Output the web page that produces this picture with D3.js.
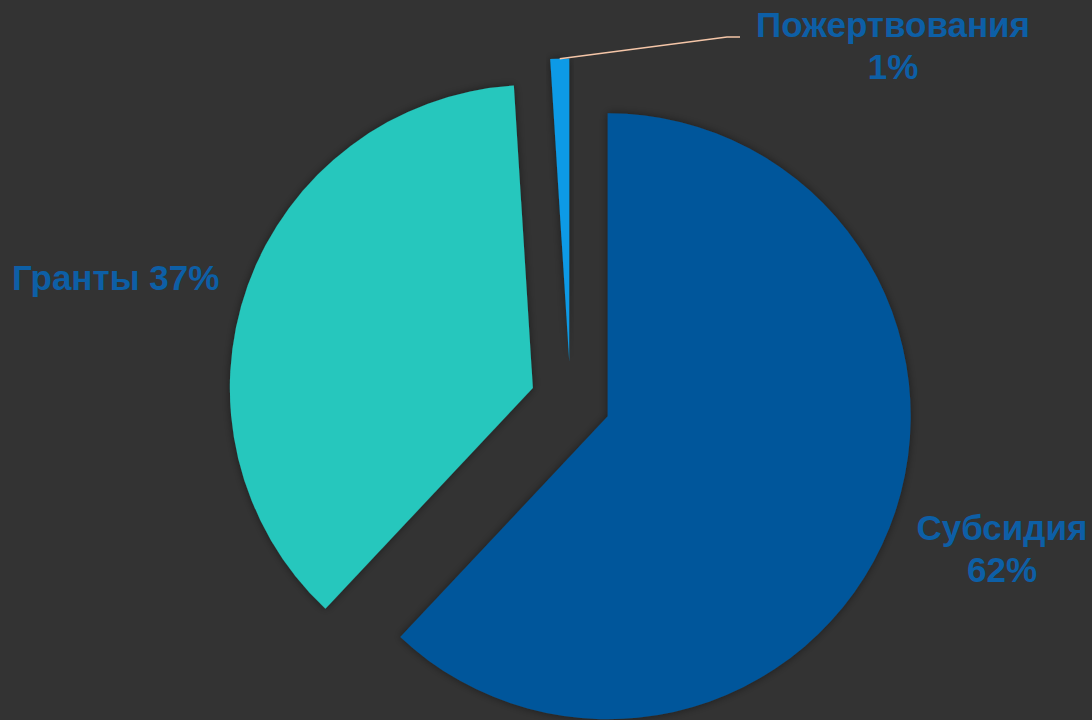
<!DOCTYPE html>
<html><head><meta charset="utf-8">
<script src="https://cdn.jsdelivr.net/npm/d3@7"></script>
<style>html,body{margin:0;padding:0;background:#333333;}svg{display:block;}</style>
</head><body>
<svg id="c" width="1092" height="720"></svg>
<script>
const categories = ["Субсидия", "Гранты", "Пожертвования"];
const values = [62, 37, 1];
const colors = ["#00579b", "#26c7bd", "#0b9ae6"];

const W = 1092, H = 720;
const cx = 570.5, cy = 401.5, R = 303, explode = 40;
const svg = d3.select("#c");
const defs = svg.append("defs");
const f = defs.append("filter").attr("id","sh").attr("x","-20%").attr("y","-20%").attr("width","140%").attr("height","140%");
f.append("feDropShadow").attr("dx",0).attr("dy",0).attr("stdDeviation",4).attr("flood-color","#000").attr("flood-opacity",0.45);

svg.append("rect").attr("width",W).attr("height",H).attr("fill","#333333");

const pie = d3.pie().sort(null).value(d => d).startAngle(0).endAngle(2*Math.PI);
const arcs = pie(values);
const arc = d3.arc().innerRadius(0).outerRadius(R);
const g = svg.append("g").attr("transform",`translate(${cx},${cy})`);

function off(d){
  const m = (d.startAngle + d.endAngle)/2;
  return [Math.sin(m)*explode, -Math.cos(m)*explode];
}

g.selectAll("path").data(arcs).join("path")
  .attr("d", arc)
  .attr("fill", (d,i) => colors[i])
  .attr("filter","url(#sh)")
  .attr("transform", d => { const o = off(d); return `translate(${o[0]},${o[1]})`; });

// leader line for donations
const dd = arcs[2];
const o2 = off(dd);
const ang = (dd.startAngle + dd.endAngle)/2;
const p0 = [cx + o2[0] + Math.sin(ang)*R, cy + o2[1] - Math.cos(ang)*R];
svg.append("polyline")
  .attr("points", [[p0[0], p0[1]], [727, 37], [740, 37]].map(p => p.join(",")).join(" "))
  .attr("fill","none").attr("stroke","#f5c6a8").attr("stroke-width",1.5);

const labelColor = "#0d5fa6";
const font = "'Liberation Sans', Arial, sans-serif";
const labels = [
  {lines:[categories[0], values[0]+"%"], x:1002, y:540, anchor:"middle"},
  {lines:[categories[1]+" "+values[1]+"%"], x:12, y:290, anchor:"start"},
  {lines:[categories[2], values[2]+"%"], x:893, y:37, anchor:"middle"}
];
labels.forEach(l => {
  const t = svg.append("text").attr("x",l.x).attr("y",l.y)
    .attr("text-anchor",l.anchor).attr("fill",labelColor)
    .attr("font-family",font).attr("font-weight","bold").attr("font-size",35);
  l.lines.forEach((s,i) => t.append("tspan").attr("x",l.x).attr("dy", i===0?0:42).text(s));
});
</script>
</body></html>
